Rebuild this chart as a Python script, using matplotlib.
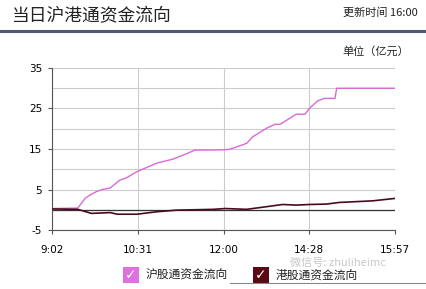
import matplotlib
matplotlib.use("Agg")
import matplotlib.pyplot as plt
from matplotlib.lines import Line2D
from matplotlib.patches import Rectangle

plt.rcParams['font.family'] = ['Noto Sans CJK SC', 'DejaVu Sans']

tick_labels = ["9:02", "10:31", "12:00", "14:28", "15:57"]
yticks = [-5, 5, 15, 25, 35]

sh_x = [0.0, 0.24, 0.30, 0.385, 0.44, 0.52, 0.59, 0.68, 0.79, 0.87, 0.99, 1.10, 1.22, 1.41, 1.53, 1.67,
        1.88, 1.99, 2.07, 2.27, 2.34, 2.50, 2.60, 2.66, 2.85, 2.95, 3.00, 3.10, 3.18, 3.30, 3.32, 4.0]
sh_y = [0.3, 0.4, 0.4, 2.8, 3.6, 4.5, 5.0, 5.4, 7.3, 7.9, 9.4, 10.4, 11.5, 12.5, 13.5, 14.75,
        14.75, 14.8, 14.9, 16.4, 18.0, 20.1, 21.1, 21.1, 23.6, 23.6, 25.0, 26.9, 27.5, 27.5, 30.0, 30.0]

hk_x = [0.0, 0.30, 0.46, 0.68, 0.76, 0.99, 1.22, 1.45, 1.88, 2.02, 2.27, 2.50, 2.69, 2.85, 3.00, 3.20, 3.35, 3.74, 4.0]
hk_y = [0.2, 0.1, -0.9, -0.7, -1.1, -1.1, -0.5, -0.1, 0.1, 0.3, 0.1, 0.75, 1.3, 1.15, 1.3, 1.4, 1.8, 2.2, 2.8]

pink = "#d86ad8"
dark = "#4a0c1c"

fig = plt.figure(figsize=(4.26, 2.89), dpi=100)
fig.patch.set_facecolor("white")
ax = fig.add_axes([52/426, 1-230/289, 343/426, 162/289])

ax.set_xlim(0, 4)
ax.set_ylim(-5, 35)
for v in range(-5, 36, 5):
    ax.axhline(v, color="#cccccc", lw=0.8, zorder=0)
for v in range(5):
    ax.axvline(v, color="#cccccc", lw=0.8, zorder=0)
ax.axhline(0, color="#333333", lw=0.9, zorder=1)

ax.plot(sh_x, sh_y, color=pink, lw=1.0, zorder=3)
ax.plot(hk_x, hk_y, color=dark, lw=1.2, zorder=3)

ax.set_xticks(range(5))
ax.set_xticklabels(tick_labels, fontsize=7.5, family=['DejaVu Sans'])
ax.set_yticks(yticks)
ax.set_yticklabels([str(t) for t in yticks], fontsize=7.5, family=['DejaVu Sans'])
ax.tick_params(axis='both', length=3, color="#555555", direction='out', pad=4)
ax.tick_params(axis='x', pad=8)
for s in ["top", "right"]:
    ax.spines[s].set_visible(False)
for s in ["left", "bottom"]:
    ax.spines[s].set_color("#555555")
    ax.spines[s].set_linewidth(0.8)

# header
fig.text(12/426, 1-16/289, "当日沪港通资金流向", fontsize=12.8, color="#222222", va="center", ha="left")
fig.text(418/426, 1-13/289, "更新时间 16:00", fontsize=8, color="#222222", va="center", ha="right")
fig.add_artist(Line2D([0, 1], [1-31/289, 1-31/289], color="#4c5a73", lw=2.2))
fig.text(409/426, 1-51/289, "单位（亿元）", fontsize=8, color="#222222", va="center", ha="right")

# watermark
fig.text(290/426, 1-263/289, "微信号: zhuliheimc", fontsize=8, color="#c8c8c8", va="center", ha="left")
fig.add_artist(Line2D([230/426, 1], [1-283/289, 1-283/289], color="#888888", lw=0.8))

# legend
def box(x0, color, label):
    fig.add_artist(Rectangle((x0/426, 1-283/289), 16/426, 16/289, transform=fig.transFigure,
                             facecolor=color, edgecolor="none"))
    fig.text((x0+8)/426, 1-275/289, "✓", fontsize=10, color="white", fontweight="bold",
             ha="center", va="center", family=['DejaVu Sans'])
    fig.text((x0+23)/426, 1-275/289, label, fontsize=8.5, color="#222222", ha="left", va="center")

box(123, "#e070e0", "沪股通资金流向")
box(253, "#5a0a14", "港股通资金流向")

fig.savefig("out.png", dpi=100)
